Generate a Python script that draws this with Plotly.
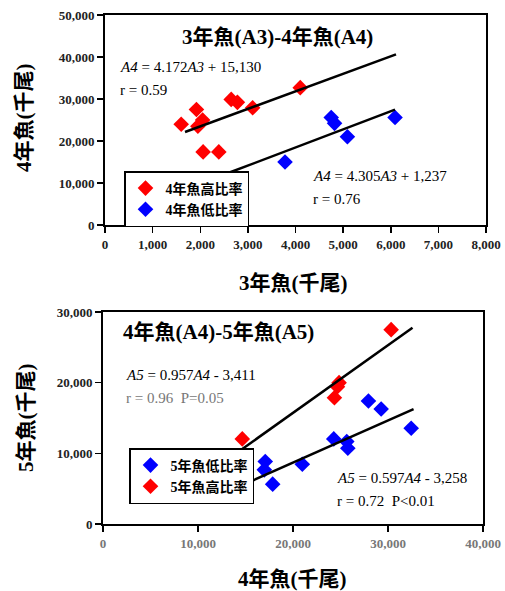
import plotly.graph_objects as go

# ---------- Top chart data: 3-year fish (A3) vs 4-year fish (A4) ----------
a3_high_x = [1600, 1920, 1950, 2050, 2060, 2390, 2650, 2780, 3100, 4100]
a3_high_y = [24000, 27500, 23500, 25000, 17400, 17400, 29900, 29200, 27900, 32700]
a3_low_x = [3780, 4750, 4820, 5090, 6090]
a3_low_y = [15000, 25600, 24200, 21000, 25600]
top_high_fit = (4.172, 15130, [1680, 6110])
top_low_fit = (4.305, 1237, [2600, 6090])
top_x_ticks = [0, 1000, 2000, 3000, 4000, 5000, 6000, 7000, 8000]
top_y_ticks = [0, 10000, 20000, 30000, 40000, 50000]

# ---------- Bottom chart data: 4-year fish (A4) vs 5-year fish (A5) ----------
a4_low_x = [17080, 16980, 17860, 20980, 24290, 25660, 25770, 27940, 29280, 32440]
a4_low_y = [8840, 7660, 5640, 8460, 12040, 11660, 10720, 17400, 16270, 13540]
a4_high_x = [14660, 24360, 24680, 24850, 30330]
a4_high_y = [12040, 17870, 19420, 20000, 27500]
bot_high_fit = (0.957, -3411, [14660, 32580])
bot_low_fit = (0.597, -3258, [14660, 32690])
bot_x_ticks = [0, 10000, 20000, 30000, 40000]
bot_y_ticks = [0, 10000, 20000, 30000]

SERIF = "Liberation Serif, Noto Sans CJK TC"
W, H = 505, 591

def fy(py):
    return 1 - py / H

def fx(px):
    return px / W

fig = go.Figure()

mk = dict(symbol="diamond", size=12)
# top
fig.add_trace(go.Scatter(x=a3_high_x, y=a3_high_y, mode="markers", name="4年魚高比率",
                         marker=dict(color="#ff0000", **mk), xaxis="x", yaxis="y", legend="legend"))
fig.add_trace(go.Scatter(x=a3_low_x, y=a3_low_y, mode="markers", name="4年魚低比率",
                         marker=dict(color="#0000ff", **mk), xaxis="x", yaxis="y", legend="legend"))
for slope, icpt, xs in (top_high_fit, top_low_fit):
    fig.add_trace(go.Scatter(x=xs, y=[slope * v + icpt for v in xs], mode="lines",
                             line=dict(color="black", width=2.5), showlegend=False,
                             xaxis="x", yaxis="y"))
# bottom
fig.add_trace(go.Scatter(x=a4_low_x, y=a4_low_y, mode="markers", name="5年魚低比率",
                         marker=dict(color="#0000ff", **mk), xaxis="x2", yaxis="y2", legend="legend2"))
fig.add_trace(go.Scatter(x=a4_high_x, y=a4_high_y, mode="markers", name="5年魚高比率",
                         marker=dict(color="#ff0000", **mk), xaxis="x2", yaxis="y2", legend="legend2"))
for slope, icpt, xs in (bot_high_fit, bot_low_fit):
    fig.add_trace(go.Scatter(x=xs, y=[slope * v + icpt for v in xs], mode="lines",
                             line=dict(color="black", width=2.5), showlegend=False,
                             xaxis="x2", yaxis="y2"))

ax_common = dict(showline=True, linecolor="black", linewidth=2, mirror=True,
                 ticks="outside", ticklen=6, tickwidth=1.5, tickcolor="black",
                 showgrid=False, zeroline=False, tickformat=",d", automargin=False,
                 tickfont=dict(family=SERIF, size=13, color="#222", weight="bold"))

fig.update_layout(
    template="none",
    width=W, height=H, margin=dict(l=0, r=0, t=0, b=0, pad=0),
    paper_bgcolor="white", plot_bgcolor="white",
    xaxis=dict(domain=[fx(105), fx(486)], range=[0, 8000], tickvals=top_x_ticks,
               anchor="y", **ax_common),
    yaxis=dict(domain=[fy(225), fy(15)], range=[0, 50000], tickvals=top_y_ticks,
               anchor="x", **ax_common),
    xaxis2=dict(domain=[fx(103), fx(483)], range=[0, 40000], tickvals=bot_x_ticks,
                anchor="y2", **{**ax_common, "tickfont": dict(family=SERIF, size=13, color="#777", weight="bold")}),
    yaxis2=dict(domain=[fy(524), fy(312)], range=[0, 30000], tickvals=bot_y_ticks,
                anchor="x2", **ax_common),
    legend=dict(x=fx(124), y=fy(171), xanchor="left", yanchor="top",
                bordercolor="black", borderwidth=1.5, bgcolor="white",
                font=dict(family=SERIF, size=14, color="black", weight="bold"),
                itemwidth=30, tracegroupgap=0),
    legend2=dict(x=fx(129), y=fy(448), xanchor="left", yanchor="top",
                 bordercolor="black", borderwidth=1.5, bgcolor="white",
                 font=dict(family=SERIF, size=14, color="black", weight="bold"),
                 itemwidth=30, tracegroupgap=0),
    showlegend=True,
    hovermode=False,
)

def ann(text, px, py, size=15, bold=False, color="black", xanchor="left", angle=0):
    fig.add_annotation(text=text, x=fx(px), y=fy(py), xref="paper", yref="paper",
                       xanchor=xanchor, yanchor="middle", showarrow=False, textangle=angle,
                       font=dict(family=SERIF, size=size, color=color,
                                 weight="bold" if bold else "normal"))

# top chart texts
ann("3年魚(A3)-4年魚(A4)", 277, 37, size=21, bold=True, xanchor="center")
ann("<i>A4</i> = 4.172<i>A3</i> + 15,130", 118, 67)
ann("r = 0.59", 118, 90)
ann("<i>A4</i> = 4.305<i>A3</i> + 1,237", 311, 176)
ann("r = 0.76", 311, 199)
ann("4年魚(千尾)", 24, 118, size=21, bold=True, xanchor="center", angle=-90)
ann("3年魚(千尾)", 293, 283, size=21, bold=True, xanchor="center")

# bottom chart texts
ann("4年魚(A4)-5年魚(A5)", 121, 332, size=21, bold=True)
ann("<i>A5</i> = 0.957<i>A4</i> - 3,411", 124, 375)
ann("r = 0.96  P=0.05", 124, 398, color="#777")
ann("<i>A5</i> = 0.597<i>A4</i> - 3,258", 335, 478)
ann("r = 0.72  P<0.01", 335, 501)
ann("5年魚(千尾)", 26, 418, size=21, bold=True, xanchor="center", angle=-90)
ann("4年魚(千尾)", 292, 579, size=21, bold=True, xanchor="center")

fig.write_html("out.html", config={"displayModeBar": False, "staticPlot": True},
               post_script="document.body.style.margin='0';document.body.style.padding='0';"
                           "document.body.style.overflow='hidden';")
